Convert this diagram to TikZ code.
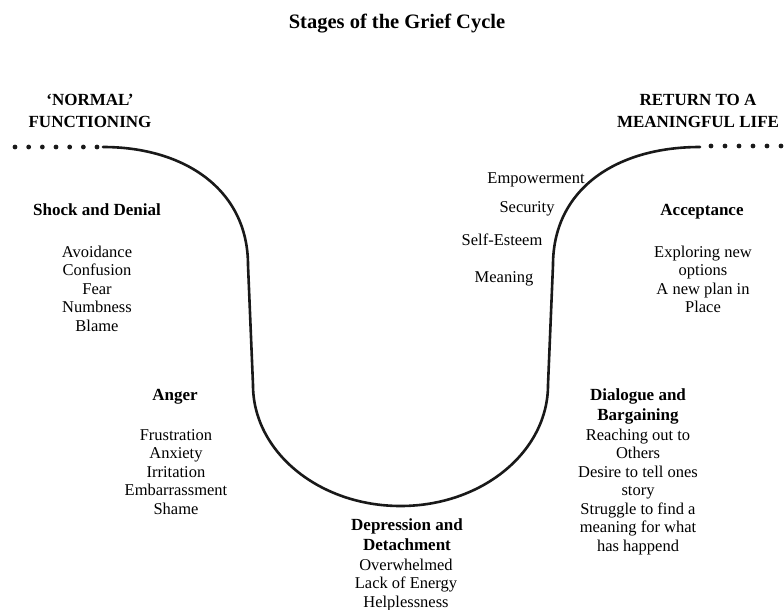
\documentclass[tikz,border=0pt]{standalone}
\usepackage{fontspec}
\setmainfont{Liberation Serif}
\begin{document}
\begin{tikzpicture}[x=1pt,y=-1pt,
  body/.style={anchor=north,inner sep=0pt,align=center,
    font=\fontsize{16.5}{18.5}\selectfont},
  head/.style={anchor=north,inner sep=0pt,align=center,
    font=\fontsize{17}{20}\selectfont\bfseries},
  endlabel/.style={anchor=north,inner sep=0pt,align=center,
    font=\fontsize{17}{22}\selectfont\bfseries},
  dot/.style={circle,fill=black!90,inner sep=0pt,minimum size=4.8pt},
  griefline/.style={line width=2.6pt,black!90}]
\useasboundingbox (0,0) rectangle (784,610);

% title
\node[anchor=base,inner sep=0pt,font=\fontsize{20.5}{24}\selectfont\bfseries]
  (title) at (397,29) {Stages of the Grief Cycle};

% start and end labels
\node[endlabel] (normal) at (90,90) {\strut ‘NORMAL’\\FUNCTIONING};
\node[endlabel] (return) at (698,90) {\strut RETURN TO A\\MEANINGFUL LIFE};

% dotted lead-in and lead-out
\foreach \i in {0,...,6}
  \node[dot] (ld\i) at ({15+13.67*\i},147) {};
\foreach \i in {0,...,5}
  \node[dot] (rd\i) at ({711+14*\i},146) {};

% the cycle curve
\coordinate (cstart) at (103,147);
\coordinate (cend) at (700,147);
\coordinate (lefttop) at (248,265);
\coordinate (leftlow) at (253,385);
\coordinate (bottom) at (400.5,506);
\coordinate (rightlow) at (548,385);
\coordinate (righttop) at (553,265);
\draw[griefline,line cap=round]
  (cstart) .. controls (185,147) and (248,190) .. (lefttop)
  -- (leftlow)
  .. controls (253,451.8) and (319,506) .. (bottom)
  .. controls (482,506) and (548,451.8) .. (rightlow)
  -- (righttop)
  .. controls (553,190) and (615,147) .. (cend);

% shock and denial
\node[head] (shock) at (97,201.5) {\strut Shock and Denial};
\node[body] (shocklist) at (97,244)
  {\strut Avoidance\\Confusion\\Fear\\Numbness\\Blame};

% anger
\node[head] (anger) at (175,386.5) {\strut Anger};
\node[body] (angerlist) at (176,427)
  {\strut Frustration\\Anxiety\\Irritation\\Embarrassment\\Shame};

% depression and detachment
\node[head] (depr) at (407,516.5) {\strut Depression and\\Detachment};
\node[body] (deprlist) at (406,557)
  {\strut Overwhelmed\\Lack of Energy\\Helplessness};

% dialogue and bargaining
\node[head] (dialogue) at (638,386.5) {\strut Dialogue and\\Bargaining};
\node[body] (dialoguelist) at (638,427)
  {\strut Reaching out to\\Others\\Desire to tell ones\\story\\Struggle to find a\\meaning for what\\has happend};

% acceptance
\node[head] (accept) at (702,201.5) {\strut Acceptance};
\node[body] (acceptlist) at (703,244)
  {\strut Exploring new\\options\\A new plan in\\Place};

% rising words along the upswing
\node[body] (empower) at (536,170) {\strut Empowerment};
\node[body] (security) at (527,199) {\strut Security};
\node[body] (esteem) at (502,232) {\strut Self-Esteem};
\node[body] (meaning) at (504,269) {\strut Meaning};
\end{tikzpicture}
\end{document}
